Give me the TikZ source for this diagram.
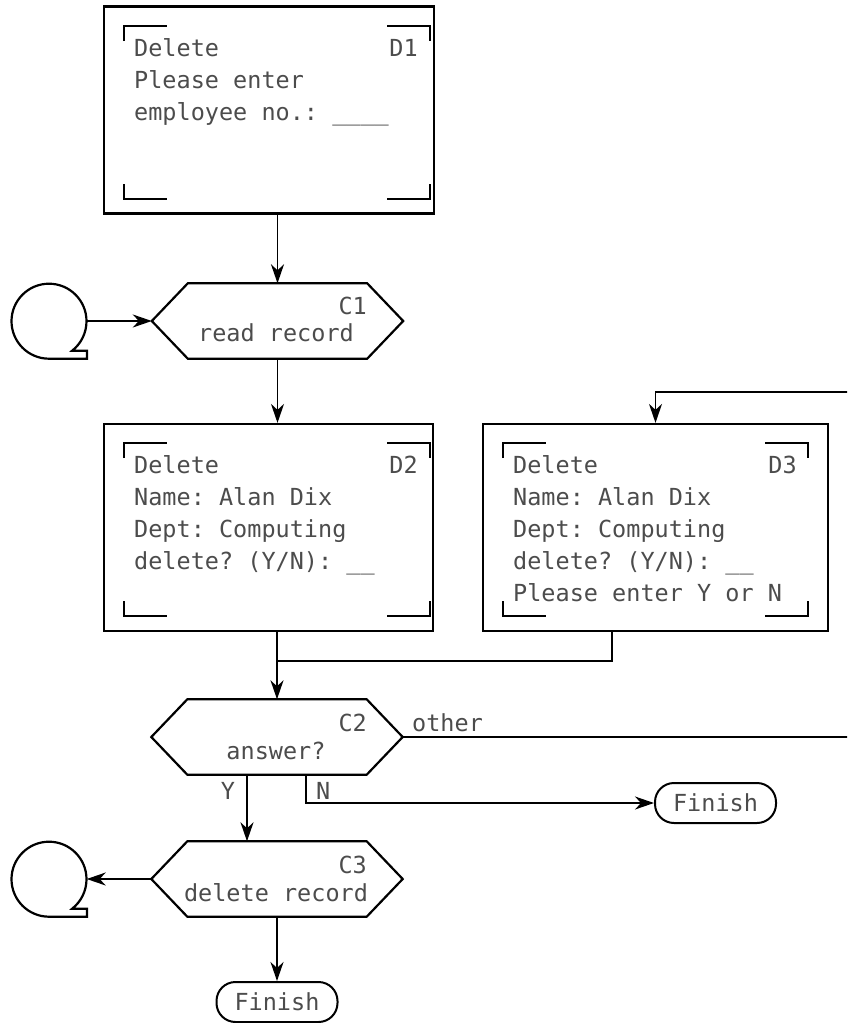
\documentclass[tikz,border=0pt]{standalone}
\usepackage{fontspec}
\newfontfamily\scrfont{DejaVu Sans Mono}
\usetikzlibrary{arrows.meta}

\begin{document}
\begin{tikzpicture}[x=1pt,y=-1pt,
  every node/.style={font=\scrfont\fontsize{23.5}{32}\selectfont,text=black!70,inner sep=0pt},
  boxline/.style={line width=2.2pt},
  screen/.style={draw,line width=2.2pt,minimum height=207pt},
  scrtext/.style={anchor=north west,text width=283.5pt,align=left,
    execute at begin node={\frenchspacing\spaceskip=0pt\xspaceskip=0pt}},
  hexbox/.style={minimum width=251pt,minimum height=75pt},
  bubble/.style={circle,minimum size=75pt},
  tick/.style={line width=2pt},
  conn/.style={line width=1.7pt},
  arr/.style={conn,-{Stealth[length=19pt,width=13pt,inset=6pt]}},
  finish/.style={draw,line width=2pt,rounded corners=19pt,minimum width=121pt,minimum height=40pt}]
\useasboundingbox (0,0) rectangle (847,1023);
\clip (0,0) rectangle (847,1023);
% screens
\node[screen,minimum width=330pt] (d1) at (269,110) {};
\node[screen,minimum width=329pt] (d2) at (268.5,527.5) {};
\node[screen,minimum width=345pt] (d3) at (655.5,527.5) {};
\node[scrtext] (d1t) at (134,38) {Delete\hfill D1\\Please enter\\employee no.: \_\_\_\_};
\node[scrtext] (d2t) at (134,455) {Delete\hfill D2\\Name: Alan Dix\\Dept: Computing\\delete? (Y/N): \_\_};
\node[scrtext] (d3t) at (513,455) {Delete\hfill D3\\Name: Alan Dix\\Dept: Computing\\delete? (Y/N): \_\_\\Please enter Y or N};
\foreach \l/\r/\t/\b in {124/430/26/199,124/430/443/616,503/808/443/616}{
  \draw[tick] (\l,\t+15) |- (\l+43,\t);
  \draw[tick] (\r-43,\t) -| (\r,\t+15);
  \draw[tick] (\l,\b-15) |- (\l+43,\b);
  \draw[tick] (\r-43,\b) -| (\r,\b-15);
}
% computations
\node[hexbox] (c1) at (277.5,321) {};
\node[hexbox] (c2) at (277,737) {};
\node[hexbox] (c3) at (277,879) {};
\foreach \c in {c1,c2,c3}
  \draw[boxline] ([xshift=36pt]\c.north west) -- ([xshift=-36pt]\c.north east) -- (\c.east)
    -- ([xshift=-36pt]\c.south east) -- ([xshift=36pt]\c.south west) -- (\c.west) -- cycle;
\node[anchor=base east] (c1n) at (367,314) {C1};
\node[anchor=base] (c1t) at (276,341) {read record};
\node[anchor=base east] (c2n) at (367,731) {C2};
\node[anchor=base] (c2t) at (276,759) {answer?};
\node[anchor=base east] (c3n) at (367,873) {C3};
\node[anchor=base] (c3t) at (276,901) {delete record};
% talk bubbles and ends
\node[bubble] (s1) at (49,321) {};
\node[bubble] (s2) at (49,879) {};
\foreach \s in {s1,s2}
  \draw[boxline] (\s.south) arc[start angle=90,end angle=412,radius=37.5] -- ++(15,0) -- ++(0,8) -- cycle;
\node[finish] (fin1) at (715.5,803) {Finish};
\node[finish] (fin2) at (277,1002) {Finish};
% flow
\coordinate (join) at (277,661);
\coordinate (back) at (860,392);
\draw[arr] (d1.south -| c1.north) -- (c1.north);
\draw[arr] (s1.east) -- (c1.west);
\draw[arr] (c1.south) -- (c1.south |- d2.north);
\draw[arr] (c2.north |- d2.south) -- (c2.north);
\draw[conn] ([xshift=-43.5pt]d3.south) |- (join);
\draw[arr] (c2.east) -- (back |- c2.east) -- (back) -| (d3.north);
\node[anchor=base west] (oth) at (412,731) {other};
\draw[arr] ([xshift=-30pt]c2.south) -- ([xshift=-30pt]c3.north);
\node[anchor=base] (yes) at (228,799) {Y};
\draw[arr] ([xshift=29pt]c2.south) |- (fin1.west);
\node[anchor=base west] (no) at (316,799) {N};
\draw[arr] (c3.west) -- (s2.east);
\draw[arr] (c3.south) -- (fin2.north);
\end{tikzpicture}
\end{document}
